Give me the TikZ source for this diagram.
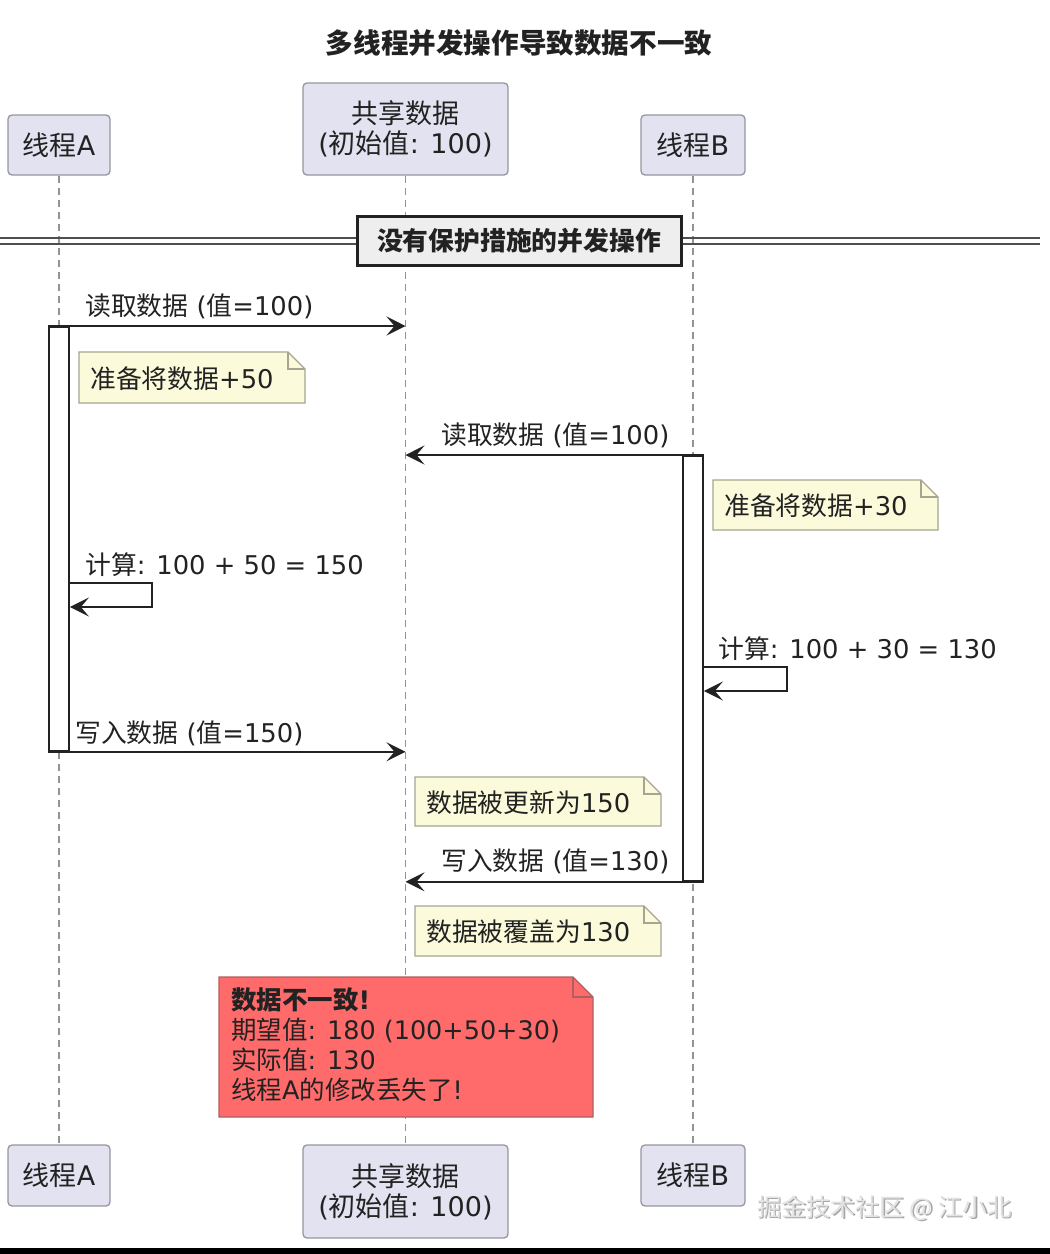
\documentclass[tikz,border=0pt]{standalone}
\usepackage{fontspec}
\setmainfont{DejaVu Sans}
\newfontfamily\cjk{Noto Sans CJK SC}
\usetikzlibrary{arrows.meta,shadows}
\newcommand\zh[1]{{\cjk #1}}
\definecolor{partfill}{RGB}{226,226,240}
\definecolor{partdraw}{RGB}{150,150,160}
\definecolor{notefill}{RGB}{251,251,219}
\definecolor{notedraw}{RGB}{165,165,145}
\definecolor{redfill}{RGB}{255,107,107}
\definecolor{reddraw}{RGB}{175,95,95}
\definecolor{ink}{RGB}{34,34,34}
\definecolor{divfill}{RGB}{238,238,238}
\newcommand\drawnote[7]{%
  \filldraw[notebd, fill=#6] (#2,#3) -- (#4-17,#3) -- (#4,#3+17) -- (#4,#5) -- (#2,#5) -- cycle;
  \draw[notebd] (#4-17,#3) -- (#4-17,#3+17) -- (#4,#3+17);
  \node[lbl, anchor=west] (#1) at (#2+11,{(#3+#5)/2+1}) {#7};
}
\begin{document}
\begin{tikzpicture}[x=1pt,y=-1pt,
  every node/.style={text=ink},
  part/.style={draw=partdraw, fill=partfill, line width=1.3pt, rounded corners=4pt, inner sep=0pt, align=center, font=\fontsize{27}{30}\selectfont},
  life/.style={draw=gray!85, line width=1.1pt, dash pattern=on 7pt off 5pt},
  act/.style={draw=ink, fill=white, line width=1.8pt, minimum width=20pt, inner sep=0pt},
  msg/.style={draw=ink, line width=2pt, -{Stealth[length=19pt,width=19pt,inset=8pt]}},
  lbl/.style={anchor=base west, inner sep=0pt, font=\fontsize{25.8}{30}\selectfont},
  notebd/.style={draw=notedraw, line width=1.2pt},
]
\fill[white] (0,0) rectangle (1050,1254);
\useasboundingbox (0,0) rectangle (1050,1254);

% title
\node[font=\fontsize{27.6}{30}\selectfont\bfseries] (title) at (519,43) {\zh{多线程并发操作导致数据不一致}};

% participants top
\node[part, minimum width=102pt, minimum height=60pt] (A1) at (59,145) {\zh{线程}A};
\node[part, minimum width=205pt, minimum height=92pt] (S1) at (405.5,129) {\zh{共享数据}\\(\zh{初始值}: 100)};
\node[part, minimum width=104pt, minimum height=60pt] (B1) at (693,145) {\zh{线程}B};
% participants bottom
\node[part, minimum width=102pt, minimum height=61pt] (A2) at (59,1175.5) {\zh{线程}A};
\node[part, minimum width=205pt, minimum height=93pt] (S2) at (405.5,1191.5) {\zh{共享数据}\\(\zh{初始值}: 100)};
\node[part, minimum width=104pt, minimum height=61pt] (B2) at (693,1175.5) {\zh{线程}B};

% lifelines
\draw[life] (A1.south) -- (A2.north);
\draw[life] (S1.south) -- (S2.north);
\draw[life] (B1.south) -- (B2.north);

% divider
\draw[draw=ink!80, line width=1.8pt] (0,238) -- (1040,238);
\draw[draw=ink!80, line width=1.8pt] (0,244) -- (1040,244);
\node[draw=ink, line width=3pt, fill=divfill, minimum width=324pt, minimum height=49pt, inner sep=0pt, font=\fontsize{25.8}{30}\selectfont\bfseries] (div) at (519,240.5) {\zh{没有保护措施的并发操作}};

% activation bars
\node[act, minimum height=424pt, anchor=north] (actA) at (59,326) {};
\node[act, minimum height=425pt, anchor=north] (actB) at (693,455) {};

% message 1
\node[lbl] (l1) at (85,315) {\zh{读取数据} (\zh{值}=100)};
\draw[msg] (actA.north west) -- (actA.north west -| S1.south);

% note 1
\drawnote{n1}{79}{352}{305}{403}{notefill}{\zh{准备将数据}+50}

% message 2
\node[lbl] (l2) at (441,444) {\zh{读取数据} (\zh{值}=100)};
\draw[msg] (actB.north east) -- (actB.north east -| S1.south);

% note 2
\drawnote{n2}{713}{480}{938}{530}{notefill}{\zh{准备将数据}+30}

% self A
\node[lbl] (l3) at (85,574) {\zh{计算}: 100 + 50 = 150};
\draw[msg] (actA.east |- 0,583) -- (152,583) -- (152,607) -- (actA.east |- 0,607);

% self B
\node[lbl] (l4) at (718,658) {\zh{计算}: 100 + 30 = 130};
\draw[msg] (actB.east |- 0,667) -- (787,667) -- (787,691) -- (actB.east |- 0,691);

% write A
\node[lbl] (l5) at (75,742) {\zh{写入数据} (\zh{值}=150)};
\draw[msg] (actA.south west) -- (actA.south west -| S1.south);

% note 3
\drawnote{n3}{415}{777}{661}{826}{notefill}{\zh{数据被更新为}150}

% write B
\node[lbl] (l6) at (441,870) {\zh{写入数据} (\zh{值}=130)};
\draw[msg] (actB.south east) -- (actB.south east -| S1.south);

% note 4
\drawnote{n4}{415}{906}{661}{956}{notefill}{\zh{数据被覆盖为}130}

% red note
\filldraw[draw=reddraw, line width=1.2pt, fill=redfill] (219,977) -- (573,977) -- (593,997) -- (593,1117) -- (219,1117) -- cycle;
\draw[draw=reddraw, line width=1.2pt] (573,977) -- (573,997) -- (593,997);
\node[anchor=north west, inner sep=0pt, align=left, font=\fontsize{25.5}{30}\selectfont] (rn) at (231,987)
  {\textbf{\zh{数据不一致}!}\\ \zh{期望值}: 180 (100+50+30)\\ \zh{实际值}: 130\\ \zh{线程}A\zh{的修改丢失了}!};

% watermark
\node[anchor=west, inner sep=0pt, text=gray!70, font=\cjk\fontsize{24.5}{28}\selectfont] (wm0) at (758.5,1209.5) {掘金技术社区 @ 江小北};
\node[anchor=west, inner sep=0pt, text=gray!22, font=\cjk\fontsize{24.5}{28}\selectfont] (wm) at (757,1208) {掘金技术社区 @ 江小北};

% bottom band
\fill[black] (0,1248) rectangle (1050,1254);
\end{tikzpicture}
\end{document}
